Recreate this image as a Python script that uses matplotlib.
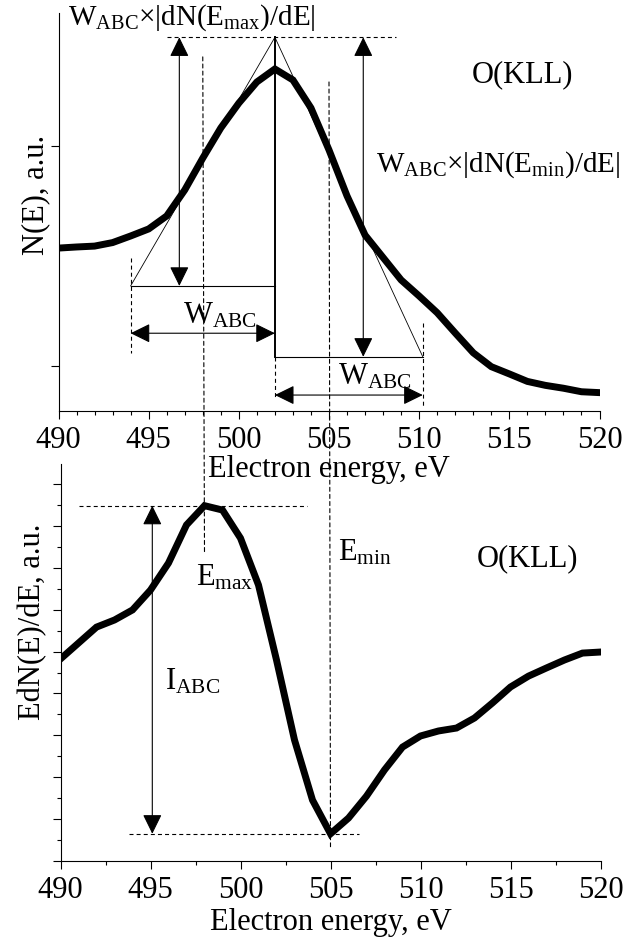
import matplotlib
matplotlib.use('Agg')
import matplotlib.pyplot as plt
from matplotlib.patches import ConnectionPatch
from matplotlib.ticker import MultipleLocator, NullFormatter

plt.rcParams['font.family'] = ['Liberation Serif', 'DejaVu Serif']
plt.rcParams['mathtext.fontset'] = 'custom'
plt.rcParams['mathtext.rm'] = 'Liberation Serif'
plt.rcParams['mathtext.it'] = 'Liberation Serif:italic'
plt.rcParams['font.size'] = 22

# O(KLL) spectrum, 1 eV step
energy = list(range(490, 521))
n_e = [1.536, 1.541, 1.545, 1.561, 1.591, 1.623, 1.682, 1.80, 1.945, 2.082,
       2.195, 2.291, 2.35, 2.30, 2.173, 1.982, 1.773, 1.595, 1.493, 1.391,
       1.318, 1.242, 1.15, 1.06, 0.997, 0.964, 0.930, 0.912, 0.899, 0.883,
       0.879]
edn_de = [9.65, 10.41, 11.17, 11.51, 11.99, 12.94, 14.23, 16.05, 16.97, 16.76,
          15.42, 13.18, 9.60, 5.78, 2.91, 1.30, 2.05, 3.10, 4.35, 5.44,
          5.97, 6.21, 6.35, 6.83, 7.55, 8.31, 8.83, 9.22, 9.60, 9.93,
          9.98]

# construction of the ABC parameters
e_max = 498
e_min = 505
e_cross = 502          # where the two tangents meet
left_base_x = 494
right_base_x = 510.2
apex_y = 2.494
left_base_y = 1.364
right_base_y = 1.042
arrow_left_x = 496.7
arrow_right_x = 506.9
i_arrow_x = 495.1
d_peak = 16.97
d_min = 1.30

dash = (0, (3.6, 2.8))
thin = 0.8
arrow = dict(arrowstyle='<|-|>,head_length=0.55,head_width=0.27',
             mutation_scale=22, lw=thin, color='k', shrinkA=0, shrinkB=0)

fig = plt.figure(figsize=(6.24, 9.40), dpi=100)
ax1 = fig.add_axes([58.5/624, 1 - 411/940, 541/624, 398/940])
ax2 = fig.add_axes([60.5/624, 1 - 861/940, 540/624, 397/940])
ax2.patch.set_visible(False)

for ax in (ax1, ax2):
    ax.spines['top'].set_visible(False)
    ax.spines['right'].set_visible(False)
    ax.spines['left'].set_linewidth(thin)
    ax.spines['bottom'].set_linewidth(thin)
    ax.set_xlim(490, 520)
    ax.xaxis.set_major_locator(MultipleLocator(5))
    ax.yaxis.set_major_formatter(NullFormatter())
    ax.tick_params(which='major', direction='out', length=5.5, width=thin, pad=5.5)
    ax.tick_params(which='minor', direction='out', length=2.6, width=thin)

# ---- N(E)
ax1.set_ylim(0.7955, 2.6045)
ax1.xaxis.set_minor_locator(MultipleLocator(1))
ax1.set_yticks([1, 2])
ax1.plot(energy, n_e, color='k', lw=5, solid_joinstyle='miter')
ax1.set_xlabel('Electron energy, eV', labelpad=0)
ax1.set_ylabel('N(E), a.u.')
ax1.yaxis.set_label_coords(-0.016, 0.543)

# tangents and the triangle
ax1.plot([left_base_x, e_cross, right_base_x], [left_base_y, apex_y, right_base_y],
         color='k', lw=0.6)
ax1.plot([left_base_x, e_cross], [left_base_y, left_base_y], color='k', lw=thin)
ax1.plot([e_cross, right_base_x], [right_base_y, right_base_y], color='k', lw=thin)
ax1.plot([e_cross, e_cross], [apex_y, right_base_y], color='k', lw=1.4)
ax1.plot([496.0, 508.7], [apex_y, apex_y], color='k', lw=thin, ls=dash)

ax1.plot([left_base_x, left_base_x], [1.491, 1.059], color='k', lw=thin, ls=dash)
ax1.plot([e_cross, e_cross], [right_base_y, 0.861], color='k', lw=thin, ls=dash)
ax1.plot([right_base_x, right_base_x], [1.195, 0.815], color='k', lw=thin, ls=dash)

ax1.annotate('', xy=(arrow_left_x, apex_y), xytext=(arrow_left_x, left_base_y),
             arrowprops=arrow)
ax1.annotate('', xy=(arrow_right_x, apex_y), xytext=(arrow_right_x, right_base_y),
             arrowprops=arrow)
ax1.annotate('', xy=(left_base_x, 1.149), xytext=(e_cross, 1.149), arrowprops=arrow)
ax1.annotate('', xy=(e_cross, 0.868), xytext=(right_base_x, 0.868), arrowprops=arrow)

ax1.text(496.9, 1.195, r'$\mathrm{W_{ABC}}$', va='baseline')
ax1.text(505.5, 0.914, r'$\mathrm{W_{ABC}}$', va='baseline')
ax1.text(490.5, 2.55, r'$\mathrm{W_{ABC}}$×|dN($\mathrm{E_{max}}$)/dE|',
         va='baseline', fontsize=21)
ax1.text(507.6, 1.882, r'$\mathrm{W_{ABC}}$×|dN($\mathrm{E_{min}}$)/dE|',
         va='baseline', fontsize=21)
ax1.text(512.9, 2.292, 'O(KLL)', va='baseline')

# ---- EdN(E)/dE
ax2.set_ylim(0, 18.96)
ax2.xaxis.set_minor_locator(MultipleLocator(2.5))
ax2.yaxis.set_major_locator(MultipleLocator(2))
ax2.yaxis.set_minor_locator(MultipleLocator(1))
ax2.plot(energy, edn_de, color='k', lw=5, solid_joinstyle='miter')
ax2.set_xlabel('Electron energy, eV', labelpad=2)
ax2.set_ylabel('EdN(E)/dE, a.u.')
ax2.yaxis.set_label_coords(-0.025, 0.603)

ax2.plot([491.0, 503.7], [d_peak, d_peak], color='k', lw=thin, ls=dash)
ax2.plot([493.8, 506.6], [d_min, d_min], color='k', lw=thin, ls=dash)
ax2.annotate('', xy=(i_arrow_x, d_peak), xytext=(i_arrow_x, d_min), arrowprops=arrow)

ax2.text(497.5, 13.18, r'$\mathrm{E_{max}}$', va='baseline')
ax2.text(505.4, 14.37, r'$\mathrm{E_{min}}$', va='baseline')
ax2.text(495.8, 8.17, r'$\mathrm{I_{ABC}}$', va='baseline')
ax2.text(513.1, 14.09, 'O(KLL)', va='baseline')

# E_max and E_min markers run through both panels
for x, y_top, y_bot in [(e_max, 2.405, 14.71), (e_min, 2.291, 0.683)]:
    con = ConnectionPatch(xyA=(x, y_top), coordsA=ax1.transData,
                          xyB=(x, y_bot), coordsB=ax2.transData,
                          color='k', lw=thin, linestyle=dash)
    fig.add_artist(con)

fig.savefig('out.png', dpi=100)
